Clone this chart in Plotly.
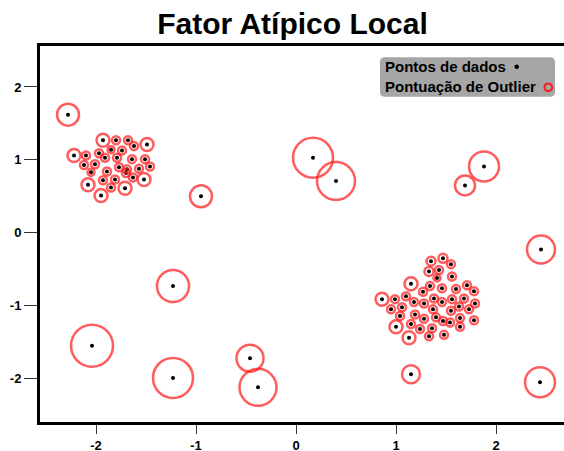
import plotly.graph_objects as go

# Isolated points (outliers)
out_x = [-2.28, 0.17, 0.40, 1.69, 1.88, -0.95, 2.45, -1.23, -2.04, -1.23, -0.46, -0.38, 1.15, 2.44]
out_y = [1.62, 1.03, 0.71, 0.65, 0.91, 0.50, -0.23, -0.73, -1.55, -1.99, -1.72, -2.12, -1.94, -2.05]
out_score = [12, 21, 20, 11, 16, 12, 15, 17, 22, 21, 14.5, 19.5, 10, 16]

# Upper-left cluster
c1_x = [-1.93, -1.80, -1.68, -1.49, -1.62, -1.85, -1.74, -1.97, -2.10, -2.22, -1.79, -1.91, -1.64, -1.51,
        -2.01, -2.12, -1.89, -1.77, -1.69, -1.57, -1.46, -2.05, -1.70, -1.63, -1.93, -1.81, -1.52, -2.08,
        -1.85, -1.71, -1.95]
c1_y = [1.27, 1.27, 1.27, 1.21, 1.19, 1.14, 1.13, 1.09, 1.06, 1.06, 1.03, 1.03, 1.01, 1.01,
        0.94, 0.93, 0.84, 0.90, 0.87, 0.88, 0.91, 0.83, 0.82, 0.76, 0.72, 0.73, 0.73, 0.66,
        0.62, 0.61, 0.51]
c1_score = [7.5, 5, 5, 7.5, 5, 4.5, 5, 5, 5, 7.5, 5, 5, 5, 5,
            5, 5, 5, 5, 5, 5, 5, 4.5, 5, 5, 5, 5, 7.5, 7.5,
            5, 7.5, 7.5]

# Lower-right cluster
c2_x = [1.35, 1.47, 1.55, 1.33, 1.43, 1.56, 1.41, 1.15, 1.34, 1.46, 1.60, 1.71, 1.78, 0.86,
        0.99, 1.10, 1.18, 1.27, 1.28, 1.38, 1.46, 1.56, 1.68, 1.79, 0.95, 1.06, 1.37, 1.55,
        1.63, 1.73, 1.04, 1.19, 1.40, 1.28, 1.47, 1.54, 1.64, 1.78, 1.00, 1.15, 1.24, 1.36,
        1.64, 1.33, 1.48, 1.13]
c2_y = [-0.39, -0.35, -0.43, -0.53, -0.51, -0.60, -0.62, -0.70, -0.73, -0.76, -0.77, -0.72, -0.80, -0.91,
        -0.91, -0.87, -0.95, -0.81, -0.97, -0.90, -0.95, -0.91, -0.90, -0.97, -1.05, -1.02, -1.05, -1.07,
        -1.01, -1.05, -1.14, -1.12, -1.16, -1.18, -1.21, -1.23, -1.17, -1.20, -1.29, -1.25, -1.32, -1.31,
        -1.29, -1.42, -1.40, -1.44]
c2_score = [5.5, 5.5, 5, 5.5, 5, 5, 4.5, 7.5, 5, 5, 5, 5, 5, 7.5,
            5, 5, 5, 5, 5, 5, 5, 5, 5, 5, 5, 5, 5, 5,
            5, 5, 5, 5, 5, 5, 5, 5, 5, 5, 7.5, 5, 5, 5,
            5, 5, 5, 7.5]

xs = c1_x + c2_x + out_x
ys = c1_y + c2_y + out_y
scores = c1_score + c2_score + out_score

title_text = "Fator Atípico Local"
legend_labels = ["Pontos de dados", "Pontuação de Outlier"]
x_ticks = [-2, -1, 0, 1, 2]
y_ticks = [-2, -1, 0, 1, 2]

FONT = "Liberation Sans, Arial, sans-serif"
RED = "#ff1a1a"

W, H = 564, 451
ML, MT, MB, MR = 40, 46, 29, 0
PW, PH = W - ML - MR, H - MT - MB


def px(x):  # picture x pixel -> paper fraction
    return (x - ML) / PW


def py(y):  # picture y pixel -> paper fraction
    return 1 - (y - MT) / PH


fig = go.Figure()
fig.add_trace(go.Scatter(
    x=xs, y=ys, mode="markers", name=legend_labels[0],
    marker=dict(color="black", size=4, line=dict(width=0)),
    showlegend=False, hoverinfo="skip",
))
fig.add_trace(go.Scatter(
    x=xs, y=ys, mode="markers", name=legend_labels[1],
    marker=dict(color="rgba(0,0,0,0)", size=[2 * s - 2 for s in scores],
                line=dict(color=RED, width=2.5)),
    showlegend=False, hoverinfo="skip",
))

# Manual legend (symbols to the right of the text)
x0, x1, y0, y1 = px(380), px(555), py(96.7), py(57.3)
rx, ry = 5 / PW, 5 / PH
path = (f"M {x0 + rx} {y1} L {x1 - rx} {y1} Q {x1} {y1} {x1} {y1 - ry} "
        f"L {x1} {y0 + ry} Q {x1} {y0} {x1 - rx} {y0} L {x0 + rx} {y0} "
        f"Q {x0} {y0} {x0} {y0 + ry} L {x0} {y1 - ry} Q {x0} {y1} {x0 + rx} {y1} Z")
shapes = [dict(type="path", xref="paper", yref="paper", path=path,
               fillcolor="#a6a6a6", line=dict(width=0), layer="above")]
annotations = []
for lab, ly in zip(legend_labels, [66.7, 86.7]):
    annotations.append(dict(text=f"<b>{lab}</b>", xref="paper", yref="paper",
                            x=px(383), y=py(ly), xanchor="left", yanchor="middle",
                            showarrow=False, font=dict(family=FONT, size=15, color="black")))
shapes.append(dict(type="circle", xref="paper", yref="paper",
                   x0=px(516.7 - 2.3), x1=px(516.7 + 2.3), y0=py(66.7 + 2.3), y1=py(66.7 - 2.3),
                   fillcolor="black", line=dict(width=0), layer="above"))
shapes.append(dict(type="circle", xref="paper", yref="paper",
                   x0=px(548.3 - 3.8), x1=px(548.3 + 3.8), y0=py(87.3 + 3.8), y1=py(87.3 - 3.8),
                   fillcolor="rgba(0,0,0,0)", line=dict(color=RED, width=2.2), layer="above"))

fig.update_layout(
    width=W, height=H,
    margin=dict(l=ML, r=MR, t=MT, b=MB, pad=0, autoexpand=False),
    paper_bgcolor="white", plot_bgcolor="white",
    title=dict(text=f"<b>{title_text}</b>", x=292.5 / W, xanchor="center",
               y=1 - 23 / H, yanchor="middle", yref="container", automargin=False,
               font=dict(family=FONT, size=30, color="black")),
    shapes=shapes, annotations=annotations,
    xaxis=dict(range=[-2.56, 2.68], tickvals=x_ticks, ticktext=[str(v) for v in x_ticks],
               automargin=False,
               showgrid=False, zeroline=False, showline=True, linewidth=3, linecolor="black",
               mirror=True, ticks="outside", ticklen=9, tickwidth=1, tickcolor="#333",
               tickfont=dict(family=FONT, size=13, color="black", weight="bold")),
    yaxis=dict(range=[-2.595, 2.562], tickvals=y_ticks, ticktext=[str(v) for v in y_ticks],
               automargin=False,
               showgrid=False, zeroline=False, showline=True, linewidth=3, linecolor="black",
               mirror=False, ticks="outside", ticklen=13, tickwidth=1, tickcolor="#333",
               tickfont=dict(family=FONT, size=13, color="black", weight="bold")),
)

fig.write_html(
    "out.html",
    config={"displayModeBar": False},
    post_script="document.body.style.margin='0';document.body.style.overflow='hidden';",
)
